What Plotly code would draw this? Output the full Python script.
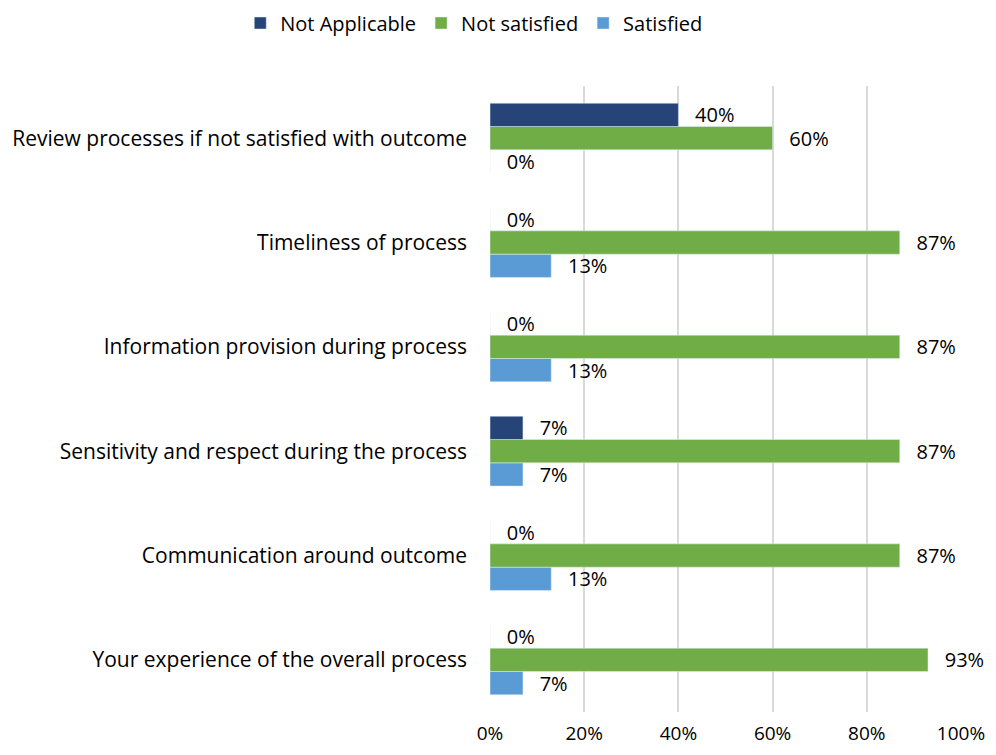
import plotly.graph_objects as go

# categorias de baixo para cima (ordem do eixo no Plotly)
categorias = [
    "Your experience of the overall process",
    "Communication around outcome",
    "Sensitivity and respect during the process",
    "Information provision during process",
    "Timeliness of process",
    "Review processes if not satisfied with outcome",
]
nao_aplicavel = [0, 0, 7, 0, 0, 40]
nao_satisfeito = [93, 87, 87, 87, 87, 60]
satisfeito = [7, 13, 7, 13, 13, 0]
ticks_x = [0, 20, 40, 60, 80, 100]
ticks_txt = ["0%", "20%", "40%", "60%", "80%", "100%"]

fonte = "Open Sans"
pad = "\u00a0\u00a0\u2009"

fig = go.Figure()

# primeiro trace fica embaixo no grupo
for nome, valores, cor in [
    ("Satisfied", satisfeito, "#5B9BD5"),
    ("Not satisfied", nao_satisfeito, "#70AD47"),
    ("Not Applicable", nao_aplicavel, "#264478"),
]:
    fig.add_trace(go.Bar(
        y=categorias,
        x=valores,
        name=nome,
        orientation="h",
        marker_color=cor,
        text=[pad + f"{v}%" for v in valores],
        textposition="outside",
        constraintext="none",
        textfont=dict(family=fonte, size=20, color="#000000"),
        cliponaxis=False,
    ))

# a página tem margem de 8px no body, por isso 980x739
fig.update_layout(
    width=980,
    height=739,
    barmode="group",
    bargap=0.33,
    bargroupgap=0,
    plot_bgcolor="white",
    paper_bgcolor="white",
    font=dict(family=fonte, size=19, color="#000000"),
    margin=dict(l=482, r=27, t=78, b=35, autoexpand=False),
    showlegend=True,
    legend=dict(
        orientation="h",
        traceorder="reversed",
        xref="container", x=0.237, xanchor="left",
        yref="container", y=1 - 15 / 739, yanchor="middle",
        font=dict(family=fonte, size=20),
        itemwidth=30,
    ),
)

fig.update_xaxes(
    range=[0, 100],
    tickvals=ticks_x,
    ticktext=ticks_txt,
    showgrid=True,
    gridcolor="#D9D9D9",
    gridwidth=1.5,
    zeroline=False,
    showline=False,
    ticks="",
    ticklabelstandoff=8,
    tickfont=dict(size=19),
)
fig.update_yaxes(
    showgrid=False,
    showline=False,
    ticks="",
    ticklabelstandoff=22,
    tickfont=dict(size=21),
)

fig.write_html("out.html")
